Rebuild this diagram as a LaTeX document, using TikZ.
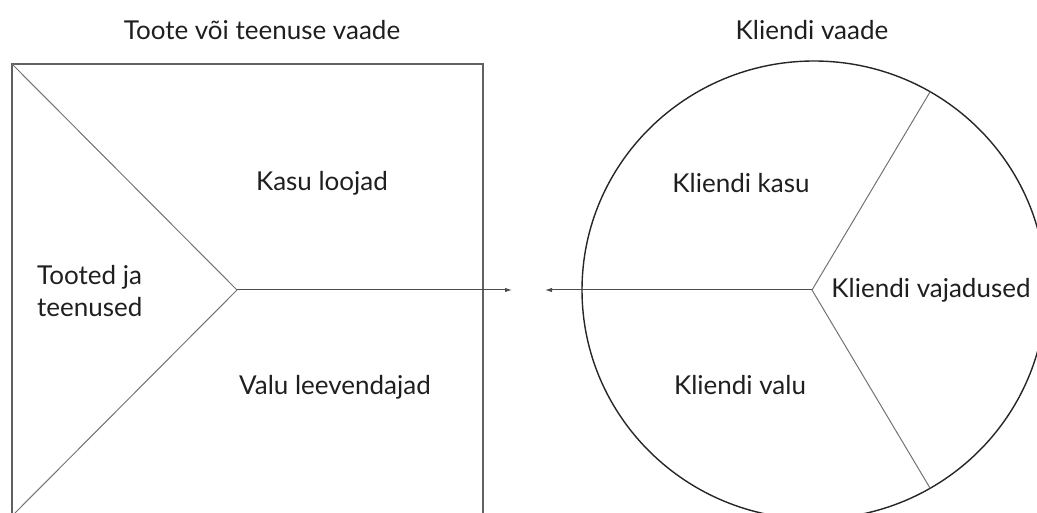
\documentclass[tikz,border=0pt]{standalone}
\usepackage{fontspec}
\setmainfont{Lato}
\usetikzlibrary{arrows.meta}
\begin{document}
\begin{tikzpicture}[x=1pt,y=-1pt,
  label/.style={font=\fontsize{26}{32}\selectfont, text=black!88, inner sep=0pt},
  frame/.style={draw=black!62, line width=1.6pt},
  divider/.style={draw=black!55, line width=1pt},
  rim/.style={draw=black!85, line width=1.4pt},
  link/.style={draw=black!70, line width=1pt, -{Latex[length=7pt,width=4.5pt]}}]
  \useasboundingbox (0,0) rectangle (1037,513);
  \clip (0,0) rectangle (1037,513);

  % product / service side
  \coordinate (sqTL) at (12,64);
  \coordinate (sqBL) at (12,516);
  \coordinate (apex) at (237,290);
  \coordinate (outR) at (512,290);
  \draw[frame] (12,537) -- (sqTL) -- (483,64) -- (483,537);
  \draw[divider] (sqTL) -- (apex) -- (sqBL);

  % customer side
  \coordinate (hub) at (812,290);
  \coordinate (outL) at (545,290);
  \coordinate (rimTop) at (930,92);
  \coordinate (rimBot) at (930,488);
  \draw[rim] (814,290) ellipse[x radius=232, y radius=229];
  \draw[divider] (hub) -- (rimTop);
  \draw[divider] (hub) -- (rimBot);

  % connectors
  \draw[link] (apex) -- (outR);
  \draw[link] (hub) -- (outL);

  % texts
  \node[label] (tL) at (262,30) {Toote või teenuse vaade};
  \node[label] (tR) at (812,30) {Kliendi vaade};
  \node[label] (kl) at (322,183) {Kasu loojad};
  \node[label, anchor=west, align=left] (tj) at (37,291) {Tooted ja\\teenused};
  \node[label] (vl) at (335,387) {Valu leevendajad};
  \node[label] (kk) at (741,183) {Kliendi kasu};
  \node[label] (kv) at (931,290) {Kliendi vajadused};
  \node[label] (kva) at (740,385) {Kliendi valu};
\end{tikzpicture}
\end{document}
